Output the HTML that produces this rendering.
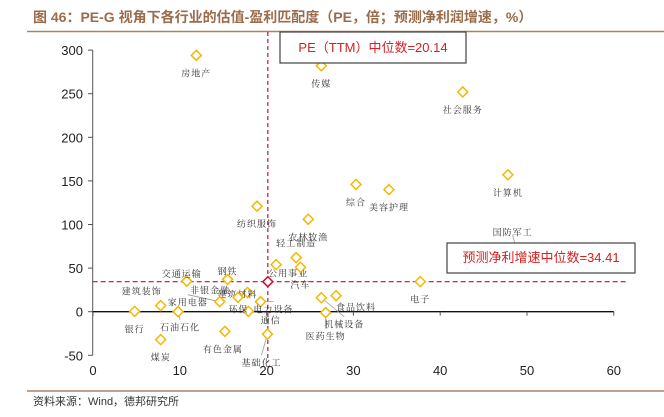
<!DOCTYPE html>
<html><head><meta charset="utf-8"><style>
body{margin:0;background:#fff;}
svg{display:block;font-family:"Liberation Sans","Noto Sans CJK SC",sans-serif;}
.lbl{font-family:"Liberation Serif","Noto Serif CJK SC",serif;font-size:9px;fill:#333;letter-spacing:1px;}
.tick{font-size:13px;fill:#222;}
</style></head><body>
<svg id="chart" width="664" height="417">
<text x="33" y="22" font-size="14" font-weight="bold" fill="#9b6b4a" font-family="'Liberation Sans','Noto Sans CJK SC',sans-serif">图 46：PE-G 视角下各行业的估值-盈利匹配度（PE，倍；预测净利润增速，%）</text>
<line x1="27" y1="31.5" x2="664" y2="31.5" stroke="#a88365" stroke-width="1.5"/>
<g id="axes"></g>
<g id="marks"></g>
<rect x="280" y="32" width="186" height="31" fill="#fff" stroke="#444" stroke-width="1.2"/>
<text x="373" y="52" text-anchor="middle" font-size="13" fill="#d42020">PE（TTM）中位数=20.14</text>
<rect x="447" y="243" width="188" height="30" fill="#fff" stroke="#444" stroke-width="1.2"/>
<text x="541" y="262" text-anchor="middle" font-size="13" fill="#d42020">预测净利增速中位数=34.41</text>
<line x1="27" y1="391" x2="664" y2="391" stroke="#a88365" stroke-width="1.5"/>
<text x="33" y="405" font-size="11" fill="#333">资料来源：Wind，德邦研究所</text>
</svg>
<script>
const industries=["房地产","传媒","社会服务","计算机","综合","美容护理","纺织服饰","农林牧渔","国防军工","轻工制造","公用事业","汽车","电子","交通运输","钢铁","建筑材料","非银金融","家用电器","环保","电力设备","建筑装饰","银行","石油石化","煤炭","有色金属","基础化工","食品饮料","机械设备","医药生物"];
const peValues=[11.9,26.3,42.6,47.8,30.3,34.1,18.9,24.8,48.8,23.4,21.1,23.9,37.7,10.8,15.5,17.8,16.7,14.6,17.9,19.3,7.8,4.8,9.8,7.8,15.2,20.1,28.0,26.3,26.8];
const growthValues=[294,282,252,157,146,140,121,106,70,62,54,51,34.5,35,37,22,16.5,11.5,0.5,11.5,7,0.5,0,-32,-22.6,-25.7,18.4,16,-1];
const xTicks=[0,10,20,30,40,50,60];
const yTicks=[-50,0,50,100,150,200,250,300];
const peMedian=20.14, growthMedian=34.41;
const offs=[[0,18],[0,18],[0,18],[0,18],[0,18],[0,18],[0,18],[0,18],[-4,-18],[0,-14],[12,9],[0,18],[0,18],[-5,-7],[0,-8],[-10,2],[-28,-7],[-32,1],[-10,-2],[13,8],[-19,-14],[0,18],[2,16],[0,18],[-2,18],[-6,29],[20,12],[23,27],[0,24]];
const X=v=>93+v*8.68, Y=v=>311.7-v*0.872;
const ns="http://www.w3.org/2000/svg";
function mk(t,a,p){const e=document.createElementNS(ns,t);for(const k in a)e.setAttribute(k,a[k]);p.appendChild(e);return e;}
const ax=document.getElementById('axes'), mg=document.getElementById('marks');
let e=mk('line',{x1:92.7,y1:Y(300),x2:92.7,y2:Y(-50),stroke:'#555'},ax);


e=mk('line',{x1:92.7,y1:Y(0),x2:X(60),y2:Y(0),stroke:'#111','stroke-width':1.3},ax);


yTicks.forEach(v=>{mk('line',{x1:88,y1:Y(v),x2:92.7,y2:Y(v),stroke:'#555'},ax);
 const t=mk('text',{x:83,y:Y(v)+5,'text-anchor':'end',class:'tick'},ax);t.textContent=v;
 
 });
xTicks.forEach(v=>{mk('line',{x1:X(v),y1:Y(0),x2:X(v),y2:Y(0)+4,stroke:'#555'},ax);
 const t=mk('text',{x:X(v),y:375,'text-anchor':'middle',class:'tick'},ax);t.textContent=v;
 
 });
e=mk('line',{x1:X(peMedian),y1:32,x2:X(peMedian),y2:Y(-58),stroke:'#c8102e','stroke-width':1.2,'stroke-dasharray':'4,3'},ax);


e=mk('line',{x1:92.7,y1:Y(growthMedian),x2:628,y2:Y(growthMedian),stroke:'#c8102e','stroke-width':1.2,'stroke-dasharray':'5,3'},ax);


const leaders={"石油石化":1,"家用电器":1,"机械设备":1,"医药生物":1,"基础化工":1,"国防军工":1,"电力设备":1};
industries.forEach((n,i)=>{
 const cx=X(peValues[i]), cy=Y(growthValues[i]);
 const lx=cx+offs[i][0], ly=cy+offs[i][1];
 if(leaders[n]){const l=mk('line',{x1:cx,y1:cy,x2:lx,y2:ly-(offs[i][1]>0?8:-2),stroke:'#999','stroke-width':0.8},mg);
  
  }
 const d=mk('path',{d:`M${cx} ${cy-5}L${cx+5} ${cy}L${cx} ${cy+5}L${cx-5} ${cy}Z`,fill:'#fff',stroke:'#f5b800','stroke-width':1.5},mg);
 
 
 const t=mk('text',{x:lx,y:ly+3,'text-anchor':'middle',class:'lbl'},mg);t.textContent=n;
 
 
});
const tx=X(peMedian), tl=mk('text',{x:tx+3,y:Y(-10)+3,'text-anchor':'middle',class:'lbl'},mg);tl.textContent='通信';


const mx=X(peMedian), my=Y(growthMedian);
const md=mk('path',{d:`M${mx} ${my-5}L${mx+5} ${my}L${mx} ${my+5}L${mx-5} ${my}Z`,fill:'#fff',stroke:'#c8102e','stroke-width':1.5},mg);


</script>
</body></html>
